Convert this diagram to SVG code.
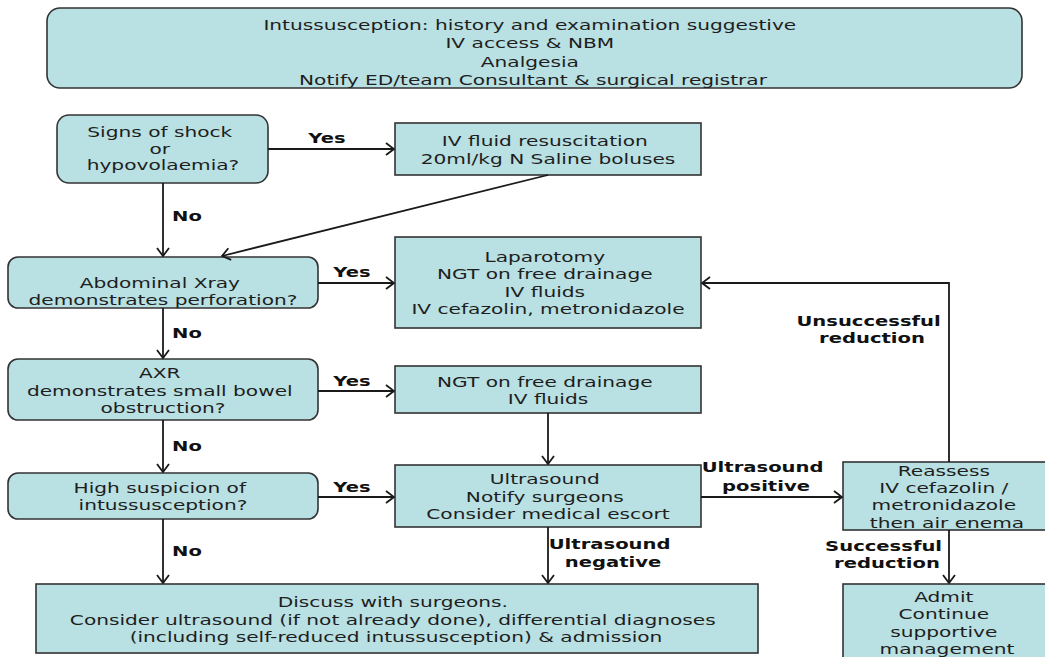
<svg xmlns="http://www.w3.org/2000/svg" width="1045" height="657" viewBox="0 0 1045 657">
  <style>
    .box { fill: #b9e0e2; stroke: #333; stroke-width: 1.6; }
    .t { font-family: "DejaVu Sans", Verdana, sans-serif; font-size: 14.5px; fill: #1e1e1e; text-anchor: middle; }
    .lbl { font-family: "DejaVu Sans", Verdana, sans-serif; font-size: 14.5px; font-weight: bold; fill: #111; text-anchor: middle; }
    .edge { fill: none; stroke: #1a1a1a; stroke-width: 1.8; }
  </style>
  <defs>
    <marker id="arrow" viewBox="0 0 10 14" refX="9" refY="7" markerWidth="10" markerHeight="14" markerUnits="userSpaceOnUse" orient="auto">
      <path d="M1,1 L9,7 L1,13" fill="none" stroke="#1a1a1a" stroke-width="1.8"/>
    </marker>
  </defs>
  <rect width="1045" height="657" fill="#ffffff"/>

  <!-- nodes -->
  <g id="start">
    <rect class="box" x="47" y="8" width="975" height="80" rx="13"/>
    <text class="t" transform="translate(533 0) scale(1.39 1)">
      <tspan x="0" y="30">Intussusception: history and examination suggestive</tspan>
      <tspan x="0" y="48.5">IV access &amp; NBM</tspan>
      <tspan x="0" y="67">Analgesia</tspan>
      <tspan x="0" y="85.5">Notify ED/team Consultant &amp; surgical registrar</tspan>
    </text>
  </g>

  <g id="shock">
    <rect class="box" x="57" y="115" width="211" height="68" rx="12"/>
    <text class="t" transform="translate(163 0) scale(1.39 1)">
      <tspan x="0" y="137">Signs of shock</tspan>
      <tspan x="0" y="154">or</tspan>
      <tspan x="0" y="170">hypovolaemia?</tspan>
    </text>
  </g>

  <g id="fluids">
    <rect class="box" x="395" y="123" width="306" height="52"/>
    <text class="t" transform="translate(548 0) scale(1.39 1)">
      <tspan x="0" y="146">IV fluid resuscitation</tspan>
      <tspan x="0" y="164">20ml/kg N Saline boluses</tspan>
    </text>
  </g>

  <g id="xray">
    <rect class="box" x="8" y="257" width="310" height="51" rx="10"/>
    <text class="t" transform="translate(163 0) scale(1.39 1)">
      <tspan x="0" y="288">Abdominal Xray</tspan>
      <tspan x="0" y="305">demonstrates perforation?</tspan>
    </text>
  </g>

  <g id="laparotomy">
    <rect class="box" x="395" y="237" width="306" height="91"/>
    <text class="t" transform="translate(548 0) scale(1.39 1)">
      <tspan x="0" y="262">Laparotomy</tspan>
      <tspan x="0" y="279">NGT on free drainage</tspan>
      <tspan x="0" y="297">IV fluids</tspan>
      <tspan x="0" y="314">IV cefazolin, metronidazole</tspan>
    </text>
  </g>

  <g id="axr">
    <rect class="box" x="8" y="359" width="310" height="61" rx="10"/>
    <text class="t" transform="translate(163 0) scale(1.39 1)">
      <tspan x="0" y="378">AXR</tspan>
      <tspan x="0" y="396">demonstrates small bowel</tspan>
      <tspan x="0" y="413">obstruction?</tspan>
    </text>
  </g>

  <g id="ngt">
    <rect class="box" x="395" y="366" width="306" height="47"/>
    <text class="t" transform="translate(548 0) scale(1.39 1)">
      <tspan x="0" y="387">NGT on free drainage</tspan>
      <tspan x="0" y="404">IV fluids</tspan>
    </text>
  </g>

  <g id="suspicion">
    <rect class="box" x="8" y="473" width="310" height="46" rx="10"/>
    <text class="t" transform="translate(163 0) scale(1.39 1)">
      <tspan x="0" y="493">High suspicion of</tspan>
      <tspan x="0" y="510">intussusception?</tspan>
    </text>
  </g>

  <g id="ultrasound">
    <rect class="box" x="395" y="465" width="306" height="62"/>
    <text class="t" transform="translate(548 0) scale(1.39 1)">
      <tspan x="0" y="484">Ultrasound</tspan>
      <tspan x="0" y="502">Notify surgeons</tspan>
      <tspan x="0" y="519">Consider medical escort</tspan>
    </text>
  </g>

  <g id="reassess">
    <rect class="box" x="843" y="462" width="212" height="68"/>
    <text class="t" transform="translate(947 0) scale(1.39 1)">
      <tspan x="0" y="476">Reassess</tspan>
      <tspan x="0" y="493">IV cefazolin /</tspan>
      <tspan x="0" y="510">metronidazole</tspan>
      <tspan x="0" y="528">then air enema</tspan>
    </text>
  </g>

  <g id="admit">
    <rect class="box" x="843" y="584" width="212" height="85"/>
    <text class="t" transform="translate(947 0) scale(1.39 1)">
      <tspan x="0" y="602">Admit</tspan>
      <tspan x="0" y="619">Continue</tspan>
      <tspan x="0" y="637">supportive</tspan>
      <tspan x="0" y="654">management</tspan>
    </text>
  </g>

  <g id="discuss">
    <rect class="box" x="36" y="584" width="722" height="69"/>
    <text class="t" transform="translate(396 0) scale(1.39 1)">
      <tspan x="0" y="607">Discuss with surgeons.</tspan>
      <tspan x="0" y="625">Consider ultrasound (if not already done), differential diagnoses</tspan>
      <tspan x="0" y="642">(including self-reduced intussusception) &amp; admission</tspan>
    </text>
  </g>

  <!-- connectors -->
  <g id="connectors">
    <line class="edge" x1="268" y1="149" x2="394" y2="149" marker-end="url(#arrow)"/>
    <line class="edge" x1="548" y1="175" x2="222" y2="256" marker-end="url(#arrow)"/>
    <line class="edge" x1="163" y1="183" x2="163" y2="256" marker-end="url(#arrow)"/>
    <line class="edge" x1="318" y1="283" x2="394" y2="283" marker-end="url(#arrow)"/>
    <line class="edge" x1="163" y1="308" x2="163" y2="358" marker-end="url(#arrow)"/>
    <line class="edge" x1="318" y1="391" x2="394" y2="391" marker-end="url(#arrow)"/>
    <line class="edge" x1="163" y1="420" x2="163" y2="472" marker-end="url(#arrow)"/>
    <line class="edge" x1="318" y1="497" x2="394" y2="497" marker-end="url(#arrow)"/>
    <line class="edge" x1="548" y1="413" x2="548" y2="464" marker-end="url(#arrow)"/>
    <line class="edge" x1="163" y1="519" x2="163" y2="583" marker-end="url(#arrow)"/>
    <line class="edge" x1="548" y1="527" x2="548" y2="583" marker-end="url(#arrow)"/>
    <line class="edge" x1="701" y1="497" x2="842" y2="497" marker-end="url(#arrow)"/>
    <polyline class="edge" points="949,462 949,283 702,283" marker-end="url(#arrow)"/>
    <line class="edge" x1="949" y1="530" x2="949" y2="583" marker-end="url(#arrow)"/>

    <text class="lbl" transform="translate(327 0) scale(1.35 1)"><tspan x="0" y="143">Yes</tspan></text>
    <text class="lbl" transform="translate(187 0) scale(1.35 1)"><tspan x="0" y="221">No</tspan></text>
    <text class="lbl" transform="translate(352 0) scale(1.35 1)"><tspan x="0" y="277">Yes</tspan></text>
    <text class="lbl" transform="translate(187 0) scale(1.35 1)"><tspan x="0" y="338">No</tspan></text>
    <text class="lbl" transform="translate(352 0) scale(1.35 1)"><tspan x="0" y="386">Yes</tspan></text>
    <text class="lbl" transform="translate(187 0) scale(1.35 1)"><tspan x="0" y="451">No</tspan></text>
    <text class="lbl" transform="translate(352 0) scale(1.35 1)"><tspan x="0" y="492">Yes</tspan></text>
    <text class="lbl" transform="translate(187 0) scale(1.35 1)"><tspan x="0" y="556">No</tspan></text>
    <text class="lbl" transform="translate(613 0) scale(1.35 1)">
      <tspan x="0" y="549">Ultrasound</tspan>
      <tspan x="0" y="567">negative</tspan>
    </text>
    <text class="lbl" transform="translate(766 0) scale(1.35 1)">
      <tspan x="0" y="472">Ultrasound</tspan>
      <tspan x="0" y="491">positive</tspan>
    </text>
    <text class="lbl" transform="translate(872 0) scale(1.35 1)">
      <tspan x="0" y="326">Unsuccessful</tspan>
      <tspan x="0" y="343">reduction</tspan>
    </text>
    <text class="lbl" transform="translate(887 0) scale(1.35 1)">
      <tspan x="0" y="551">Successful</tspan>
      <tspan x="0" y="568">reduction</tspan>
    </text>
  </g>
</svg>
